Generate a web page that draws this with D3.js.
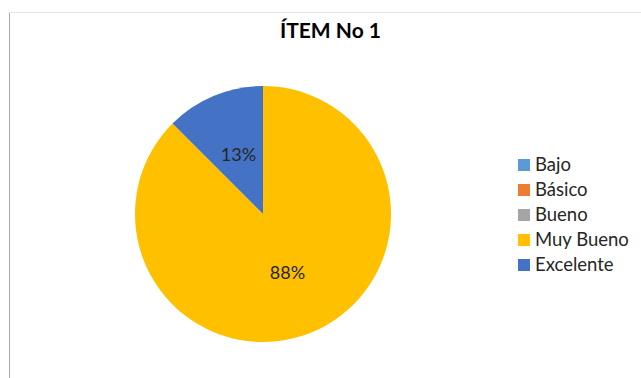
<!doctype html>
<meta charset="utf-8">
<title>ITEM No 1</title>
<style>
body { margin: 0; background: #fff; }
svg { font-family: Lato, "Open Sans", sans-serif; }
</style>
<script src="https://cdn.jsdelivr.net/npm/d3@7"></script>
<body>
<script>
// data (7 of 8 answers "Muy Bueno", 1 "Excelente")
var categories = ["Bajo", "Básico", "Bueno", "Muy Bueno", "Excelente"];
var values = [0, 0, 0, 7, 1];
var colors = ["#5B9BD5", "#ED7D31", "#A5A5A5", "#FFC000", "#4472C4"];
var title = "ÍTEM No 1";

var W = 641, H = 378;
var cx = 263, cy = 214, r = 128;

var svg = d3.select("body").append("svg")
    .attr("width", W).attr("height", H);

// chart area border (only left and top visible in crop)
svg.append("line").attr("x1", 9.5).attr("x2", 9.5).attr("y1", 12).attr("y2", H)
    .attr("stroke", "#a6a6a6").attr("stroke-width", 1);
svg.append("line").attr("x1", 9).attr("x2", W).attr("y1", 12.5).attr("y2", 12.5)
    .attr("stroke", "#e6e6e6").attr("stroke-width", 1);

svg.append("text")
    .attr("x", 330.5).attr("y", 38)
    .attr("text-anchor", "middle")
    .attr("font-size", "21px").attr("font-weight", "bold")
    .attr("fill", "#000")
    .text(title);

var color = d3.scaleOrdinal().domain(categories).range(colors);
var total = d3.sum(values);

var pie = d3.pie().sort(null).value(function(d) { return d.v; });
var data = categories.map(function(c, i) { return {c: c, v: values[i]}; });
var arcs = pie(data);

var arc = d3.arc().innerRadius(0).outerRadius(r);
var labelArc = d3.arc().innerRadius(r * 0.5).outerRadius(r * 0.5);

var g = svg.append("g").attr("transform", "translate(" + cx + "," + cy + ")");

g.selectAll("path").data(arcs).enter().append("path")
    .attr("d", arc)
    .attr("fill", function(d) { return color(d.data.c); });

g.selectAll("text").data(arcs.filter(function(d) { return d.data.v > 0; }))
  .enter().append("text")
    .attr("transform", function(d) { return "translate(" + labelArc.centroid(d) + ")"; })
    .attr("text-anchor", "middle")
    .attr("dy", "0.35em")
    .attr("font-size", "18px")
    .attr("fill", "#262626")
    .text(function(d) { return Math.round(d.data.v / total * 100) + "%"; });

// legend
var leg = svg.append("g").attr("transform", "translate(518,165)");
var row = leg.selectAll("g").data(categories).enter().append("g")
    .attr("transform", function(d, i) { return "translate(0," + (i * 25) + ")"; });
row.append("rect")
    .attr("x", 0).attr("y", -6).attr("width", 12).attr("height", 12)
    .attr("fill", function(d) { return color(d); });
row.append("text")
    .attr("x", 17).attr("dy", "0.35em")
    .attr("font-size", "18.5px")
    .attr("fill", "#262626")
    .text(function(d) { return d; });
</script>
</body>
